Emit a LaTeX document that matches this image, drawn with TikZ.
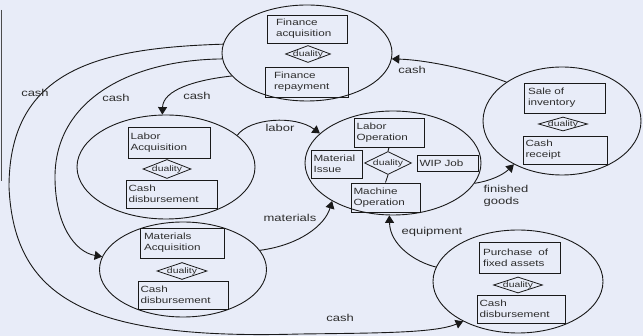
\documentclass[tikz,border=0pt]{standalone}
\usepackage{fontspec}
\setmainfont{Liberation Sans}
\newfontfamily\dfont[FakeStretch=1.3]{Liberation Sans}
\usetikzlibrary{shapes.geometric,arrows.meta}
\definecolor{bgc}{RGB}{232,236,248}
\definecolor{ink}{RGB}{25,25,25}
\definecolor{txt}{RGB}{45,45,45}
\tikzset{
  ell/.style 2 args={draw=ink, ellipse, minimum width=#1pt, minimum height=#2pt, inner sep=0pt, line width=0.9pt},
  bx/.style={draw=ink, rectangle, inner xsep=2.5pt, inner ysep=0pt, align=left,
    font=\dfont\fontsize{9}{11}\selectfont, text=txt, line width=0.9pt},
  dia/.style 2 args={draw=ink, diamond, minimum width=#1pt, minimum height=#2pt, inner sep=0pt,
    font=\dfont\fontsize{8}{8}\selectfont, text=txt, line width=0.8pt},
  lbl/.style={font=\dfont\fontsize{10}{12}\selectfont, text=txt, inner sep=0pt},
  con/.style={draw=ink, line width=0.9pt, -{Triangle[length=7.5pt,width=9pt]}},
  link/.style={draw=ink, line width=0.9pt}
}
\begin{document}
\begin{tikzpicture}[x=1pt,y=-1pt]
\fill[bgc] (0,0) rectangle (643,336);
\useasboundingbox (0,0) rectangle (643,336);
\draw[line width=1.4pt, draw=black!70] (1.5,10) -- (1.5,181);

% ellipses
\node[ell={170}{96}] (fin) at (307,53) {};
\node[ell={178}{104}] (lab) at (166,167) {};
\node[ell={167}{95}] (mat) at (183,269.5) {};
\node[ell={176}{104}] (cen) at (393,163) {};
\node[ell={158}{108}] (sal) at (562,121) {};
\node[ell={170}{103}] (pur) at (518,281.5) {};

% finance
\node[bx, inner xsep=9pt, text width=62pt, minimum height=28pt] (fa) at (307,29) {Finance\\acquisition};
\node[dia={45}{17}] (fd) at (308,54) {\makebox[0pt]{duality}};
\node[bx, inner xsep=9pt, text width=65pt, minimum height=30pt] (fr) at (306.5,82) {Finance\\repayment};

% labor acquisition
\node[bx, text width=77pt, minimum height=31pt] (la) at (169,142.5) {Labor\\Acquisition};
\node[dia={48}{19}] (ld) at (167,169) {\makebox[0pt]{duality}};
\node[bx, text width=86pt, minimum height=28pt] (lc) at (171.5,194) {Cash\\disbursement};

% materials acquisition
\node[bx, inner xsep=4pt, text width=76pt, minimum height=30pt] (ma) at (182,243) {Materials\\Acquisition};
\node[dia={50}{17}] (md) at (182,271) {\makebox[0pt]{duality}};
\node[bx, text width=85pt, minimum height=28pt] (mc) at (183,295) {Cash\\disbursement};

% central
\node[bx, text width=65pt, minimum height=29pt] (lo) at (389,132.5) {Labor\\Operation};
\node[bx, text width=46pt, minimum height=28pt] (mi) at (336.5,164) {Material\\Issue};
\node[dia={47}{23}] (cd) at (388,163) {\makebox[0pt]{duality}};
\node[bx, text width=56pt, minimum height=16pt] (wip) at (447.5,163) {WIP Job};
\node[bx, text width=64pt, minimum height=29pt] (mo) at (385.5,197.5) {Machine\\Operation};
\draw[link] (lo.south) -- (cd.north);
\draw[link] (cd.south) -- (mo.north);

% sale
\node[bx, inner xsep=4pt, text width=73pt, minimum height=30pt] (si) at (564.5,98) {Sale of\\inventory};
\node[dia={49}{14}] (sd) at (563,124) {\makebox[0pt]{duality}};
\node[bx, text width=79pt, minimum height=28pt] (cr) at (565,150) {Cash\\receipt};

% purchase
\node[bx, inner xsep=4pt, text width=73pt, minimum height=31pt] (pf) at (519.5,257.5) {Purchase\ \ of\\fixed assets};
\node[dia={49}{16}] (pd) at (518,285) {\makebox[0pt]{duality}};
\node[bx, text width=83pt, minimum height=28pt] (pc) at (521,309) {Cash\\disbursement};

% connectors
\draw[con] (fin.174) .. controls (103,48) and (9,67) .. (9,187)
  .. controls (14,300) and (90,340) .. (300,334)
  .. controls (380,333) and (435,333) .. (pur.216);
\draw[con] (fin.184) .. controls (130,60) and (55,100) .. (55,177)
  .. controls (55,225) and (75,252) .. (mat.171);
\draw[con] (fin.197) .. controls (195,80) and (163,90) .. (lab.94);
\draw[con] (sal.145) .. controls (480,72) and (430,60) .. (fin.356);
\draw[con] (lab.24) .. controls (250,118) and (295,115) .. (cen.158);
\draw[con] (mat.14) .. controls (300,245) and (325,225) .. (cen.212);
\draw[con] (cen.346) .. controls (490,181) and (503,175) .. (sal.222);
\draw[con] (pur.170) .. controls (415,262) and (390,245) .. (cen.266);

% labels
\node[lbl] (l1) at (35,93) {cash};
\node[lbl] (l2) at (116,98) {cash};
\node[lbl] (l3) at (197,96) {cash};
\node[lbl] (l4) at (412,70) {cash};
\node[lbl] (l5) at (280,128) {labor};
\node[lbl] (l6) at (290,218) {materials};
\node[lbl, align=left] (l7) at (506,196) {finished\\goods};
\node[lbl] (l8) at (432,232) {equipment};
\node[lbl] (l9) at (340,318) {cash};
\end{tikzpicture}
\end{document}
